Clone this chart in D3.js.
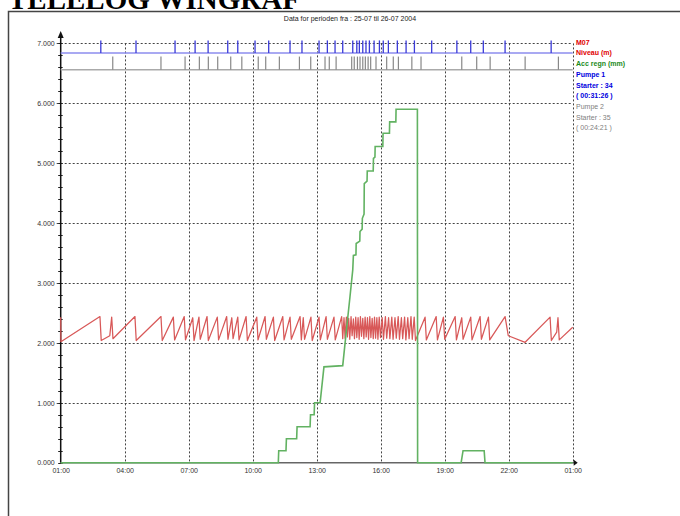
<!DOCTYPE html>
<html><head><meta charset="utf-8">
<script src="https://cdn.jsdelivr.net/npm/d3@7"></script>
<style>
html,body{margin:0;padding:0;background:#fff;overflow:hidden}
svg{display:block}
</style></head>
<body>
<svg id="c" width="680" height="516"></svg>
<script>
// ---- data ----
const pageTitle = "TELELOG WINGRAF";
const chartTitle = "Data for perioden fra :  25-07  til  26-07 2004";
const footer = "TELETRONIC Danmark A/S ,  www.teletronic.dk";
const xTickHours = [1, 4, 7, 10, 13, 16, 19, 22, 25];
const xTickLabels = ["01:00","04:00","07:00","10:00","13:00","16:00","19:00","22:00","01:00"];
const yTicks = [0, 1, 2, 3, 4, 5, 6, 7];
const yTickLabels = ["0.000","1.000","2.000","3.000","4.000","5.000","6.000","7.000"];
const legendLabels = ["M07","Niveau (m)","Acc regn (mm)","Pumpe 1","Starter : 34","( 00:31:26 )","Pumpe 2","Starter : 35","( 00:24:21 )"];
const legendColors = ["#e00000","#e00000","#1a8a1a","#0000e0","#0000e0","#0000e0","#808080","#808080","#808080"];
const legendBold = [true,true,true,true,true,true,false,false,false];

// pump start times (clock hours, day continues past 24)
const pump1Starts = [2.88,4.53,6.36,7.30,7.91,8.83,9.30,10.11,10.75,11.75,12.31,13.11,13.50,13.86,14.22,14.69,14.88,15.00,15.16,15.31,15.47,15.69,15.94,16.12,16.36,16.78,17.19,17.58,18.39,19.57,20.22,20.81,21.83,23.99];
const pump2Starts = [3.44,5.70,6.83,7.50,7.92,8.36,8.97,9.49,10.26,10.61,11.25,12.19,12.72,13.39,13.59,13.91,14.64,14.76,14.91,15.03,15.16,15.28,15.41,15.53,15.78,16.28,16.59,16.83,17.46,17.89,19.80,20.50,21.13,22.77,24.33];

// Niveau (m): [clock hour, value]
const niveau = [[1.00,2.43],[1.01,2.02],[2.84,2.44],[2.90,2.04],[3.30,2.12],[3.39,2.43],[3.45,2.07],[4.48,2.44],[4.54,2.04],[5.70,2.44],[5.76,2.04],[6.28,2.43],[6.34,2.05],[6.79,2.44],[6.85,2.05],[7.19,2.42],[7.25,2.04],[7.48,2.43],[7.54,2.06],[7.86,2.44],[7.92,2.04],[8.34,2.43],[8.40,2.05],[8.78,2.44],[8.84,2.06],[9.02,2.42],[9.08,2.07],[9.30,2.43],[9.36,2.05],[9.69,2.44],[9.75,2.04],[10.19,2.43],[10.25,2.05],[10.58,2.44],[10.64,2.06],[10.97,2.43],[11.03,2.04],[11.41,2.44],[11.47,2.05],[11.75,2.43],[11.81,2.06],[12.22,2.44],[12.28,2.05],[12.37,2.42],[12.43,2.06],[12.73,2.43],[12.79,2.04],[13.11,2.43],[13.17,2.05],[13.44,2.44],[13.50,2.06],[13.81,2.43],[13.87,2.05],[14.17,2.44],[14.22,2.07],
[14.28,2.42],[14.33,2.08],[14.39,2.43],[14.44,2.10],[14.50,2.41],[14.55,2.06],[14.61,2.44],[14.66,2.12],[14.72,2.40],[14.77,2.07],[14.83,2.43],[14.88,2.09],[14.94,2.42],[14.99,2.06],[15.05,2.44],[15.10,2.11],[15.16,2.41],[15.21,2.07],[15.27,2.43],[15.32,2.10],[15.38,2.42],[15.43,2.06],[15.49,2.44],[15.54,2.09],[15.60,2.41],[15.65,2.07],[15.71,2.43],[15.76,2.08],[15.82,2.42],[15.87,2.06],[15.93,2.43],[15.99,2.09],[16.07,2.42],[16.13,2.06],[16.22,2.44],[16.28,2.08],[16.37,2.42],[16.43,2.07],[16.52,2.43],[16.58,2.06],[16.67,2.42],[16.73,2.08],[16.82,2.44],[16.88,2.06],[16.97,2.42],[17.03,2.07],[17.12,2.43],[17.18,2.05],[17.27,2.42],[17.33,2.07],[17.42,2.44],[17.48,2.06],[17.57,2.43],[17.63,2.04],
[18.08,2.43],[18.14,2.05],[18.60,2.44],[18.66,2.05],[18.94,2.43],[19.00,2.06],[19.49,2.44],[19.55,2.05],[19.80,2.42],[19.86,2.06],[20.22,2.43],[20.28,2.05],[20.66,2.44],[20.72,2.06],[21.05,2.43],[21.11,2.05],[21.83,2.44],[21.98,2.12],[22.77,2.01],[23.94,2.43],[24.00,2.04],[24.25,2.18],[24.31,2.42],[24.37,2.05],[25.00,2.26]];

// Acc regn (mm): [clock hour, value]
const accRegn = [[1,0],[11.20,0],[11.22,0.2],[11.56,0.2],[11.58,0.4],[12.06,0.4],[12.08,0.6],[12.69,0.6],[12.71,0.8],[12.88,0.8],[12.90,1.0],[13.16,1.0],[13.34,1.6],[14.22,1.62],[14.41,2.27],[14.56,2.77],[14.69,3.22],[14.72,3.46],[14.84,3.47],[14.85,3.66],[15.02,3.70],[15.03,3.86],[15.13,3.90],[15.14,4.08],[15.22,4.15],[15.23,4.66],[15.36,4.70],[15.37,4.87],[15.65,4.87],[15.66,5.08],[15.73,5.10],[15.74,5.28],[16.10,5.28],[16.11,5.50],[16.41,5.50],[16.42,5.69],[16.71,5.69],[16.72,5.90],[17.72,5.90],[17.73,0],[19.77,0],[19.86,0.2],[20.85,0.2],[20.89,0],[25,0]];

// ---- drawing ----
const svg = d3.select("#c");
const x = d3.scaleLinear().domain([1, 25]).range([60.7, 572.7]);
const y = d3.scaleLinear().domain([0, 7]).range([462.7, 43.4]);
const small = "'Liberation Sans', Arial, sans-serif";
const narrow = "'Liberation Sans Narrow', 'Arial Narrow', 'Liberation Sans', sans-serif";

// page title (cut off at top, as in the original)
svg.append("text").attr("x", 8).attr("y", 9)
  .attr("font-family", "'Liberation Serif', 'Times New Roman', serif")
  .attr("font-weight", "bold").attr("font-size", 29).attr("fill", "#000")
  .text(pageTitle);

// frame
svg.append("path").attr("d", "M8.5,516 V11.5 H680")
  .attr("fill", "none").attr("stroke", "#444").attr("stroke-width", 1.5);

// chart title
svg.append("text").attr("x", 350).attr("y", 20.5).attr("text-anchor", "middle")
  .attr("font-family", small).attr("font-size", 7).attr("fill", "#222")
  .text(chartTitle);

// footer (cut off at bottom, as in the original)
svg.append("text").attr("x", 351).attr("y", 520.5).attr("text-anchor", "middle")
  .attr("font-family", small).attr("font-size", 7).attr("fill", "#222")
  .text(footer);

// grid
const grid = svg.append("g").attr("stroke", "#444").attr("stroke-width", 1)
  .attr("stroke-dasharray", "2,2").attr("fill", "none");
grid.selectAll("line.h").data(yTicks.filter(d => d > 0)).join("line")
  .attr("x1", x(1) - 4).attr("x2", x(25))
  .attr("y1", d => Math.round(y(d)) + 0.5).attr("y2", d => Math.round(y(d)) + 0.5);
grid.selectAll("line.v").data(xTickHours.filter(d => d > 1)).join("line")
  .attr("y1", y(7)).attr("y2", y(0))
  .attr("x1", d => Math.round(x(d)) + 0.5).attr("x2", d => Math.round(x(d)) + 0.5);

// y axis labels
const yAxis = d3.axisLeft(y).tickValues(yTicks).tickSize(0).tickPadding(6)
  .tickFormat((d, i) => yTickLabels[i]);
const ya = svg.append("g").attr("transform", `translate(${x(1)},0)`).call(yAxis);
ya.select(".domain").remove();
ya.selectAll("text").attr("font-family", small).attr("font-size", 7).attr("fill", "#333");

// x axis labels
const xAxis = d3.axisBottom(x).tickValues(xTickHours).tickSize(0).tickPadding(5)
  .tickFormat((d, i) => xTickLabels[i]);
const xa = svg.append("g").attr("transform", `translate(0,${y(0)})`).call(xAxis);
xa.select(".domain").remove();
xa.selectAll("text").attr("font-family", small).attr("font-size", 7).attr("fill", "#333");

// minor ticks on y axis
const minor = d3.range(0, 7.01, 0.2);
svg.append("g").selectAll("line").data(minor).join("line")
  .attr("x1", x(1) - 2.5).attr("x2", x(1) + 2)
  .attr("y1", d => Math.round(y(d)) + 0.5).attr("y2", d => Math.round(y(d)) + 0.5)
  .attr("stroke", "#222").attr("stroke-width", 1);

// x axis line
svg.append("line").attr("x1", x(1)).attr("x2", x(25) + 2)
  .attr("y1", y(0)).attr("y2", y(0)).attr("stroke", "#666").attr("stroke-width", 1.5);
svg.append("path").attr("d", `M${x(25)+1},${y(0)-3} L${x(25)+5},${y(0)} L${x(25)+1},${y(0)+3}Z`).attr("fill", "#111");
// y axis line + arrow
svg.append("line").attr("x1", x(1)).attr("x2", x(1))
  .attr("y1", y(0)).attr("y2", 36).attr("stroke", "#111").attr("stroke-width", 1.5);
svg.append("path").attr("d", `M${x(1)-3},38 L${x(1)},31 L${x(1)+3},38Z`).attr("fill", "#111");

// pump bands
const p1Base = y(6.84), p1Top = y(7.05);
const p2Base = y(6.56), p2Top = y(6.78);
svg.append("line").attr("x1", x(1)).attr("x2", x(25)).attr("y1", p1Base).attr("y2", p1Base)
  .attr("stroke", "#8c8cee").attr("stroke-width", 1.5);
svg.append("g").selectAll("line").data(pump1Starts).join("line")
  .attr("x1", d => x(d)).attr("x2", d => x(d)).attr("y1", p1Top).attr("y2", p1Base)
  .attr("stroke", "#3a3ad8").attr("stroke-width", 1.3);
svg.append("line").attr("x1", x(1)).attr("x2", x(25)).attr("y1", p2Base).attr("y2", p2Base)
  .attr("stroke", "#aaaaaa").attr("stroke-width", 1.5);
svg.append("g").selectAll("line").data(pump2Starts).join("line")
  .attr("x1", d => x(d)).attr("x2", d => x(d)).attr("y1", p2Top).attr("y2", p2Base)
  .attr("stroke", "#888").attr("stroke-width", 1.2);

// lines
const line = d3.line().x(d => x(d[0])).y(d => y(d[1]));
svg.append("path").datum(niveau).attr("d", line).attr("fill", "none")
  .attr("stroke", "#d85858").attr("stroke-width", 1.25).attr("stroke-linejoin", "round");
svg.append("path").datum(accRegn).attr("d", line).attr("fill", "none")
  .attr("stroke", "#62b262").attr("stroke-width", 1.6);

// legend
svg.append("g").selectAll("text").data(legendLabels).join("text")
  .attr("x", 576).attr("y", (d, i) => 44.7 + i * 10.7)
  .attr("font-family", narrow).attr("font-size", 7)
  .attr("font-weight", (d, i) => legendBold[i] ? "bold" : "normal")
  .attr("fill", (d, i) => legendColors[i])
  .text(d => d);
</script>
</body></html>
